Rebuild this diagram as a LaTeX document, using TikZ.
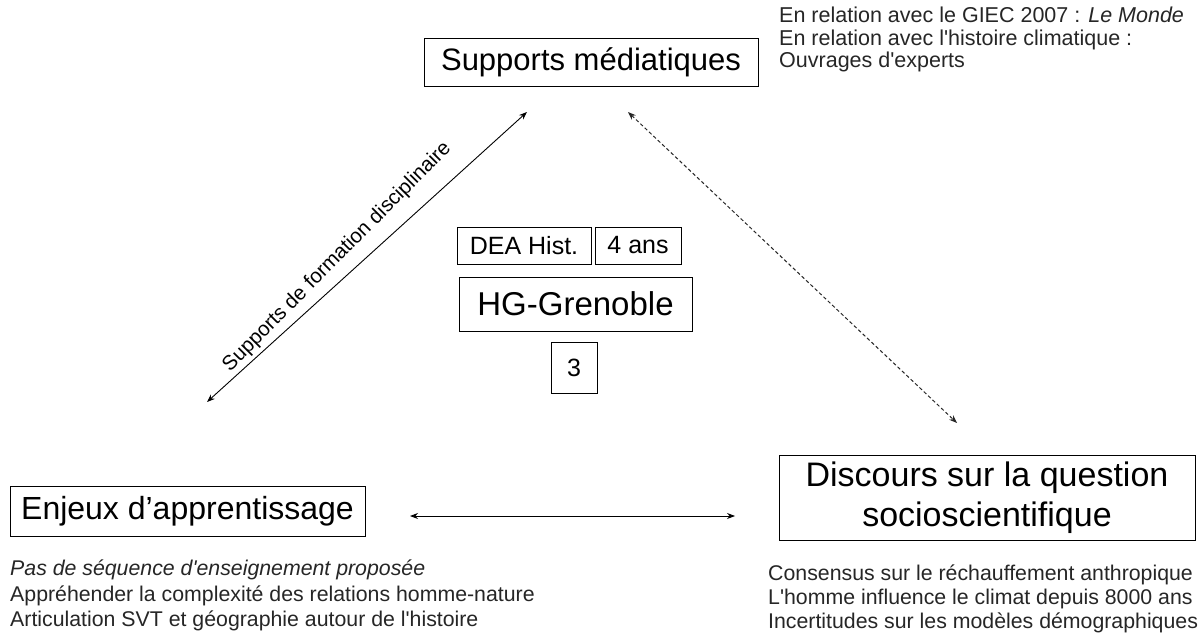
\documentclass[tikz,border=0pt]{standalone}
\usepackage{fontspec}
\setmainfont{Liberation Sans}
\usetikzlibrary{arrows.meta}
\begin{document}
\begin{tikzpicture}[x=1pt,y=-1pt,
  box/.style={draw, line width=0.9pt, inner sep=0pt, align=center},
  note/.style={inner sep=0pt, align=left, anchor=north west, text=black!85},
  link/.style={line width=0.9pt, {Stealth[length=8pt,width=6pt]}-{Stealth[length=8pt,width=6pt]}},
  dlink/.style={link, line width=1pt, dash pattern=on 3.5pt off 2.5pt, draw=black!85}]
\useasboundingbox (0,0) rectangle (1204,634);
\fill[white] (0,0) rectangle (1204,634);

\node[box, minimum width=334pt, minimum height=48pt, font=\fontsize{31}{36}\selectfont] (sup) at (591,62) {Supports médiatiques};
\node[box, minimum width=134pt, minimum height=37pt, font=\fontsize{25}{30}\selectfont] (dea) at (524,245.5) {DEA Hist.};
\node[box, minimum width=86pt, minimum height=37pt, font=\fontsize{25}{30}\selectfont] (ans) at (638,245.5) {4 ans};
\node[box, minimum width=233pt, minimum height=54pt, font=\fontsize{33}{38}\selectfont] (hg) at (575.5,304) {HG-Grenoble};
\node[box, minimum width=46pt, minimum height=51pt, font=\fontsize{25}{30}\selectfont] (trois) at (574,367.5) {3};
\node[box, minimum width=355pt, minimum height=50pt, font=\fontsize{32}{36}\selectfont] (enj) at (187.5,511) {Enjeux d’apprentissage};
\node[box, minimum width=416pt, minimum height=85pt, font=\fontsize{34}{40}\selectfont] (dis) at (987,497.5) {Discours sur la question\\socioscientifique};

\node[note, font=\fontsize{21.5}{22.5}\selectfont] (ntr) at (779,7) {En relation avec le GIEC 2007 : \textit{Le Monde}\\En relation avec l\textquotesingle histoire climatique :\\Ouvrages d\textquotesingle experts};
\node[note, font=\fontsize{21.3}{25.5}\selectfont] (nbl) at (10,560) {\textit{Pas de séquence d\textquotesingle enseignement proposée}\\Appréhender la complexité des relations homme-nature\\Articulation SVT et géographie autour de l\textquotesingle histoire};
\node[note, font=\fontsize{21.3}{24}\selectfont] (nbr) at (768,565) {Consensus sur le réchauffement anthropique\\L\textquotesingle homme influence le climat depuis 8000 ans\\Incertitudes sur les modèles démographiques};

\coordinate (a1) at (207,402);
\coordinate (a2) at (527,112);
\coordinate (b1) at (628,112);
\coordinate (b2) at (957,423);
\coordinate (c1) at (410,516);
\coordinate (c2) at (735,516);

\draw[link] (a1) -- node[pos=0.45, sloped, above=10pt, rotate=3, inner sep=0pt, font=\fontsize{20.5}{24}\selectfont] (lab) {Supports de formation disciplinaire} (a2);
\draw[dlink] (b1) -- (b2);
\draw[link] (c1) -- (c2);
\end{tikzpicture}
\end{document}
